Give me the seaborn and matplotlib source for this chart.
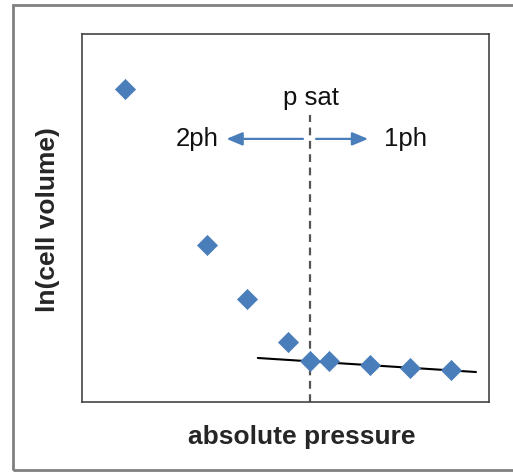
import matplotlib
matplotlib.use("Agg")
import matplotlib.pyplot as plt
import seaborn as sns
import pandas as pd
from matplotlib.patches import Rectangle

sns.set_theme(style="white")
plt.rcParams['font.family'] = ['Liberation Sans', 'DejaVu Sans']

# data (arbitrary units)
pressure = [1.06, 3.07, 4.05, 5.06, 5.60, 6.07, 7.08, 8.06, 9.07]
ln_volume = [8.50, 4.27, 2.80, 1.63, 1.11, 1.11, 1.00, 0.92, 0.87]
trend_x = [4.32, 9.68]
trend_y = [1.196, 0.815]
p_sat = 5.60
arrow_y = 7.15

df = pd.DataFrame({"p": pressure, "v": ln_volume})
tr = pd.DataFrame({"p": trend_x, "v": trend_y})

fig = plt.figure(figsize=(5.13, 4.73), dpi=100)
ax = fig.add_axes([82/513, 1-402/473, (489-82)/513, (402-34)/473])

blue = "#4A7EBB"
sns.lineplot(data=tr, x="p", y="v", ax=ax, color="black", linewidth=1.5, zorder=2)
sns.scatterplot(data=df, x="p", y="v", ax=ax, marker="D", s=105, color=blue,
                edgecolor=blue, linewidth=0.5, zorder=3)

ax.set_xlim(0, 10)
ax.set_ylim(0, 10)
ax.plot([p_sat, p_sat], [0, 7.80], linestyle=(0, (3.5, 2.5)), color="#555555",
        linewidth=1.6, zorder=1)

astyle = "-|>,head_length=0.6,head_width=0.25"
ax.annotate("", xy=(3.55, arrow_y), xytext=(5.43, arrow_y),
            arrowprops=dict(arrowstyle=astyle, color=blue, lw=1.6,
                            mutation_scale=16, shrinkA=0, shrinkB=0))
ax.annotate("", xy=(7.03, arrow_y), xytext=(5.75, arrow_y),
            arrowprops=dict(arrowstyle=astyle, color=blue, lw=1.6,
                            mutation_scale=16, shrinkA=0, shrinkB=0))
ax.text(2.83, arrow_y, "2ph", ha="center", va="center", fontsize=18.5, color="#111111")
ax.text(7.94, arrow_y, "1ph", ha="center", va="center", fontsize=18.5, color="#111111")
ax.text(5.63, 8.25, "p sat", ha="center", va="center", fontsize=18.5, color="#111111")

ax.set_xticks([])
ax.set_yticks([])
ax.set_xlabel("")
ax.set_ylabel("")
for sp in ax.spines.values():
    sp.set_color("#444444")
    sp.set_linewidth(1.2)

fig.text(302/513, 1-437/473, "absolute pressure", ha="center", va="center",
         fontsize=19, fontweight="bold")
fig.text(48/513, 1-220/473, "ln(cell volume)", ha="center", va="center",
         fontsize=19, fontweight="bold", rotation=90)

fig.patches.append(Rectangle((13/513, 1-470/473), 510/513, (470-5)/473,
                             transform=fig.transFigure, fill=False,
                             edgecolor="#808080", linewidth=2))

fig.savefig("out.png", dpi=100)
